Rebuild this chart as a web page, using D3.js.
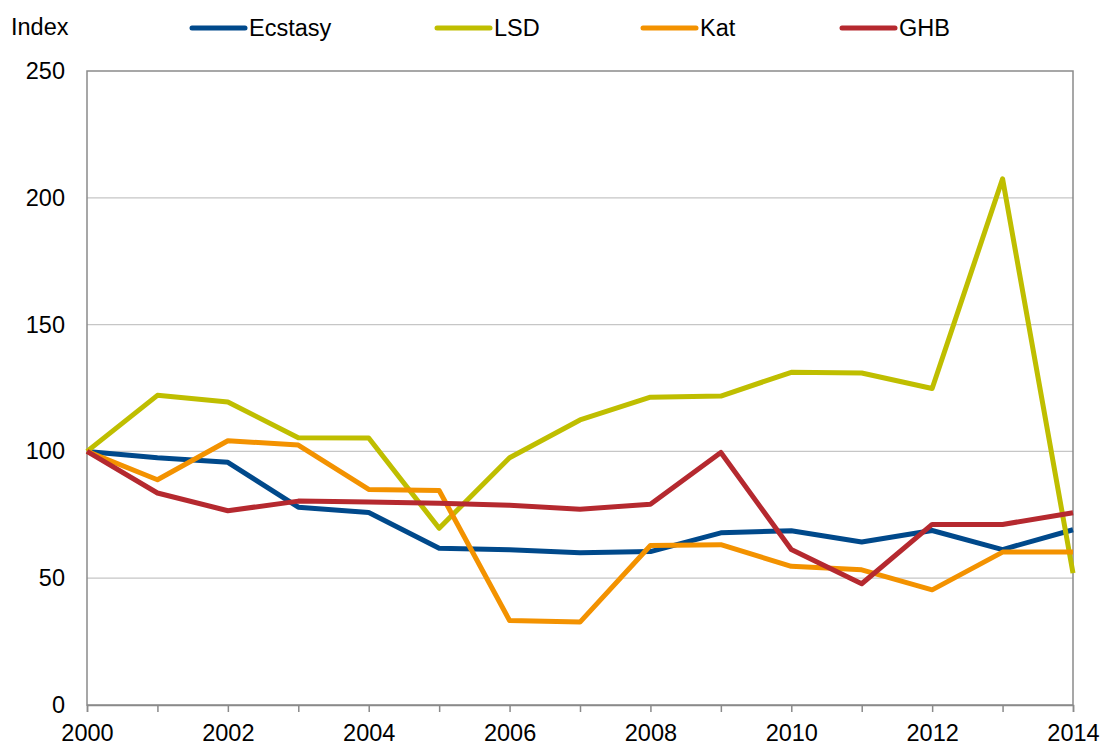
<!DOCTYPE html>
<html><head><meta charset="utf-8">
<script src="https://cdn.jsdelivr.net/npm/d3@7"></script>
<style>body{margin:0;background:#fff}svg{display:block}text{font-family:"Liberation Sans",Arial,sans-serif;fill:#000}</style>
</head><body><svg id="c" width="1100" height="745"></svg>
<script>
const years = [2000,2001,2002,2003,2004,2005,2006,2007,2008,2009,2010,2011,2012,2013,2014];
const ecstasy = [100,97.5,95.7,78,75.9,61.8,61.2,60,60.5,67.9,68.7,64.3,68.8,61.3,69.1];
const lsd = [100,122.1,119.5,105.4,105.3,69.7,97.5,112.4,121.4,121.8,131.2,130.9,124.8,207.5,52];
const kat = [100,88.8,104.2,102.5,85,84.6,33.3,32.7,62.9,63.2,54.7,53.3,45.4,60.3,60.3];
const ghb = [100,83.6,76.6,80.4,80,79.6,78.8,77.2,79.2,99.6,61.3,47.8,71.2,71.2,75.8];
const seriesNames = ["Ecstasy","LSD","Kat","GHB"];
const seriesColors = ["#00498b","#bfbe00","#f39200","#b5292f"];
const yTicks = [0,50,100,150,200,250];
const xTickLabels = [2000,2002,2004,2006,2008,2010,2012,2014];

const series = [ecstasy,lsd,kat,ghb];
const FS = 23.5;
const svg = d3.select("#c");
const L=87,R=1073,T=71,B=705;
const x = d3.scaleLinear().domain([2000,2014]).range([L,R]);
const y = d3.scaleLinear().domain([0,250]).range([B,T]);

// gridlines
svg.append("g").selectAll("line").data(yTicks.filter(d=>d>0&&d<250)).join("line")
  .attr("x1",L).attr("x2",R).attr("y1",d=>y(d)).attr("y2",d=>y(d))
  .attr("stroke","#c6c6c6").attr("stroke-width",1.2);

// frame
svg.append("rect").attr("x",L).attr("y",T).attr("width",R-L).attr("height",B-T)
  .attr("fill","none").attr("stroke","#8a8a8a").attr("stroke-width",1.5);

// x axis
const xAxis = d3.axisBottom(x).tickValues(years).tickSize(7).tickFormat(d=>xTickLabels.includes(d)?String(d):"");
const gx = svg.append("g").attr("transform",`translate(0,${B})`).call(xAxis);
gx.select(".domain").attr("stroke","#8a8a8a").attr("stroke-width",1.5);
gx.selectAll(".tick line").attr("stroke","#8a8a8a").attr("stroke-width",1.5);
gx.selectAll(".tick text").attr("font-size",FS).attr("dy",0).attr("y",36).style("font-family","'Liberation Sans',Arial,sans-serif").attr("fill","#000");

// y axis
const yAxis = d3.axisLeft(y).tickValues(yTicks).tickSize(0).tickPadding(22);
const gy = svg.append("g").attr("transform",`translate(${L},0)`).call(yAxis);
gy.select(".domain").remove();
gy.selectAll(".tick text").attr("font-size",FS).style("font-family","'Liberation Sans',Arial,sans-serif").attr("fill","#000");

// lines
const line = d3.line().x((d,i)=>x(years[i])).y(d=>y(d));
series.forEach((s,i)=>{
  svg.append("path").datum(s).attr("d",line).attr("fill","none")
    .attr("stroke",seriesColors[i]).attr("stroke-width",5).attr("stroke-linejoin","round");
});

// title
svg.append("text").attr("x",11).attr("y",35).attr("font-size",FS).text("Index");

// legend
const legX = [192,437,643,842];
seriesNames.forEach((n,i)=>{
  svg.append("line").attr("x1",legX[i]).attr("x2",legX[i]+53).attr("y1",28).attr("y2",28)
    .attr("stroke",seriesColors[i]).attr("stroke-width",5).attr("stroke-linecap","round");
  svg.append("text").attr("x",legX[i]+57).attr("y",36).attr("font-size",FS).text(n);
});
</script></body></html>
